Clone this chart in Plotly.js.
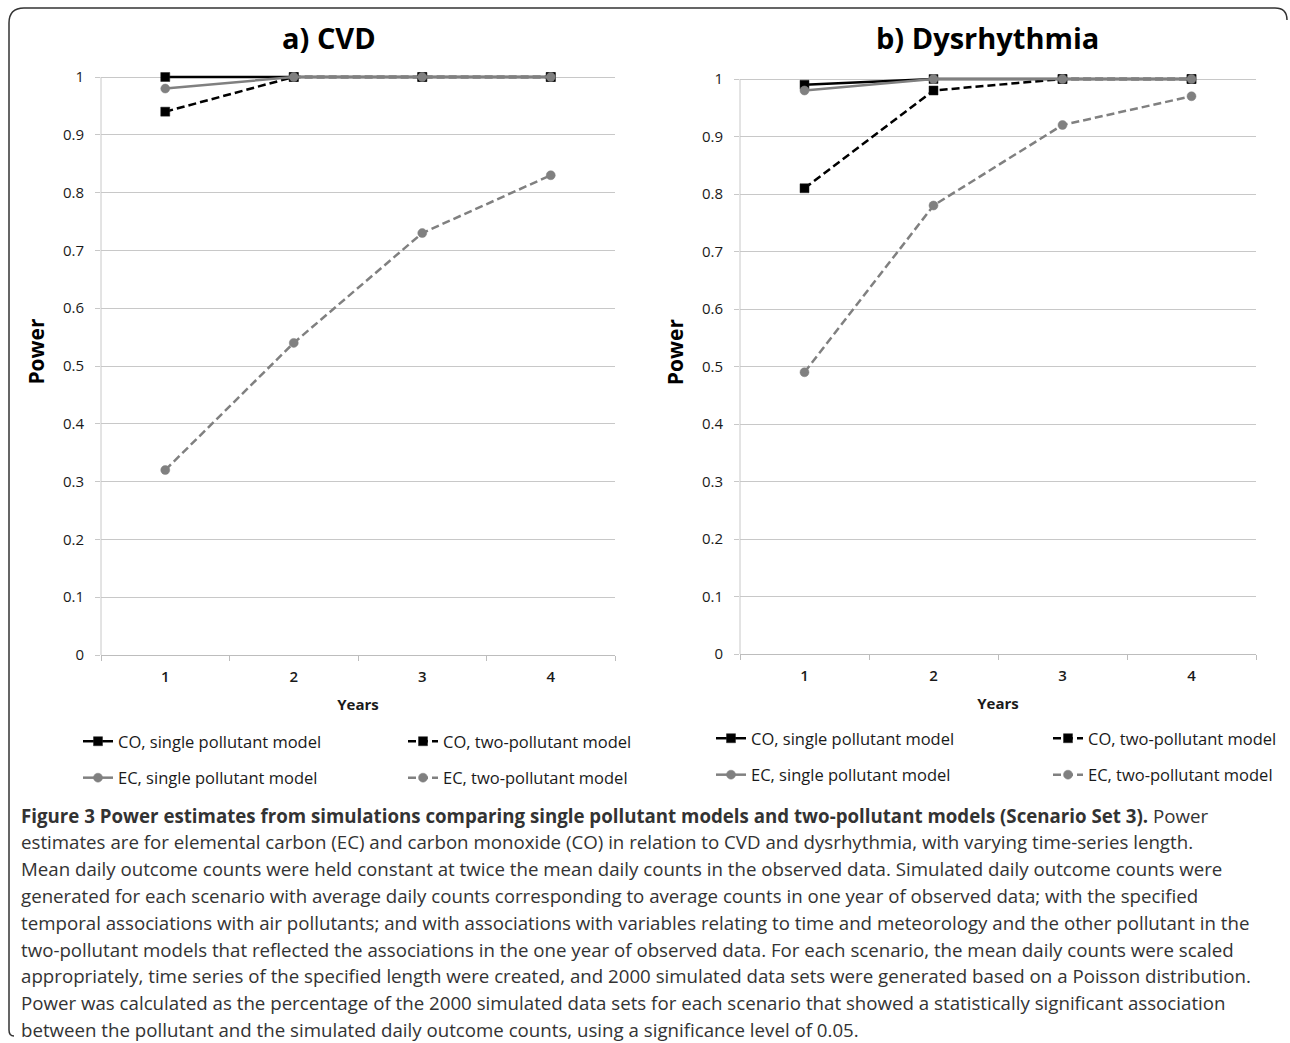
<!DOCTYPE html>
<html>
<head>
<meta charset="utf-8">
<script src="https://cdn.plot.ly/plotly-3.0.1.min.js"></script>
<style>
html,body{margin:0;padding:0;background:#fff;}
#chart{width:1290px;height:1043px;}
</style>
</head>
<body>
<div id="chart"></div>
<script>
// ---------- DATA ----------
const years = ['1', '2', '3', '4'];
const yTicks = [0, 0.1, 0.2, 0.3, 0.4, 0.5, 0.6, 0.7, 0.8, 0.9, 1];
const seriesNames = ['CO, single pollutant model', 'CO, two-pollutant model',
                     'EC, single pollutant model', 'EC, two-pollutant model'];
// a) CVD
const cvdCOsingle = [1, 1, 1, 1];
const cvdCOtwo    = [0.94, 1, 1, 1];
const cvdECsingle = [0.98, 1, 1, 1];
const cvdECtwo    = [0.32, 0.54, 0.73, 0.83];
// b) Dysrhythmia
const dysCOsingle = [0.99, 1, 1, 1];
const dysCOtwo    = [0.81, 0.98, 1, 1];
const dysECsingle = [0.98, 1, 1, 1];
const dysECtwo    = [0.49, 0.78, 0.92, 0.97];
const panelTitles = ['a) CVD', 'b) Dysrhythmia'];
const captionLines = [
  '<b>Figure 3 Power estimates from simulations comparing single pollutant models and two-pollutant models (Scenario Set 3).</b> Power',
  'estimates are for elemental carbon (EC) and carbon monoxide (CO) in relation to CVD and dysrhythmia, with varying time-series length.',
  'Mean daily outcome counts were held constant at twice the mean daily counts in the observed data. Simulated daily outcome counts were',
  'generated for each scenario with average daily counts corresponding to average counts in one year of observed data; with the specified',
  'temporal associations with air pollutants; and with associations with variables relating to time and meteorology and the other pollutant in the',
  'two-pollutant models that reflected the associations in the one year of observed data. For each scenario, the mean daily counts were scaled',
  'appropriately, time series of the specified length were created, and 2000 simulated data sets were generated based on a Poisson distribution.',
  'Power was calculated as the percentage of the 2000 simulated data sets for each scenario that showed a statistically significant association',
  'between the pollutant and the simulated daily outcome counts, using a significance level of 0.05.'
];

// ---------- STYLE ----------
const W = 1290, H = 1043;
const px = x => x / W;
const py = y => 1 - y / H;
const FONT = 'Open Sans, sans-serif';
const BLACK = '#000000', GRAY = '#808080';
const DASH = '8px,4px';

const styles = [
  {color: BLACK, dash: 'solid', symbol: 'square', msize: 9},
  {color: BLACK, dash: DASH,    symbol: 'square', msize: 9},
  {color: GRAY,  dash: 'solid', symbol: 'circle', msize: 9},
  {color: GRAY,  dash: DASH,    symbol: 'circle', msize: 9}
];
const legendFor = [['legend', 'legend2', 'legend', 'legend2'], ['legend3', 'legend4', 'legend3', 'legend4']];

function makeTraces(panel, arrays, xa, ya) {
  return arrays.map((vals, i) => ({
    type: 'scatter', mode: 'lines+markers',
    x: years, y: vals, xaxis: xa, yaxis: ya,
    name: seriesNames[i],
    legend: legendFor[panel][i],
    legendgroup: 'p' + panel + 's' + i,
    cliponaxis: false,
    line: {color: styles[i].color, width: 2.5, dash: styles[i].dash},
    marker: {symbol: styles[i].symbol, size: styles[i].msize, color: styles[i].color,
             line: {color: i < 2 ? '#222' : GRAY, width: 0.5}}
  }));
}

const traces = [
  ...makeTraces(0, [cvdCOsingle, cvdCOtwo, cvdECsingle, cvdECtwo], 'x', 'y'),
  ...makeTraces(1, [dysCOsingle, dysCOtwo, dysECsingle, dysECtwo], 'x2', 'y2')
];

function xAxis(d0, d1, anchor) {
  return {
    domain: [px(d0), px(d1)], anchor: anchor, type: 'category',
    categoryorder: 'array', categoryarray: years,
    range: [-0.5, 3.5], tickson: 'boundaries', ticks: 'outside', ticklen: 5,
    tickcolor: '#bdbdbd', showline: true, linecolor: '#bdbdbd', linewidth: 1,
    showgrid: false, zeroline: false, fixedrange: true, ticklabelstandoff: 8,
    tickfont: {family: FONT, size: 15, color: '#1a1a1a', weight: 600},
    title: {text: '<b>Years</b>', font: {family: FONT, size: 15, color: '#1a1a1a'}, standoff: 14}
  };
}
function yAxis(yZero, yOne, anchor) {
  const per = (yZero - yOne); // pixels for 1.0
  const top = yOne - per * 0.05;
  return {
    domain: [py(yZero), py(top)], anchor: anchor, range: [0, 1.05],
    tickvals: yTicks, ticktext: yTicks.map(v => String(v)),
    ticks: 'outside', ticklen: 5, tickcolor: '#c8c8c8', ticklabelstandoff: 8,
    showgrid: true, gridcolor: '#c8c8c8', gridwidth: 1,
    showline: false, zeroline: false, fixedrange: true,
    tickfont: {family: FONT, size: 15, color: '#1a1a1a'},
    title: {text: '<b>Power</b>', font: {family: FONT, size: 21, color: '#000'}, standoff: 12}
  };
}

function legendBox(x, y) {
  return {
    x: px(x), y: py(y), xanchor: 'left', yanchor: 'top', orientation: 'v',
    bgcolor: 'rgba(0,0,0,0)', borderwidth: 0, tracegroupgap: 12,
    font: {family: FONT, size: 16.5, color: '#1a1a1a'}, itemwidth: 30
  };
}

const annotations = [
  {text: '<b>' + panelTitles[0] + '</b>', xref: 'paper', yref: 'paper', x: px(329), y: py(38),
   xanchor: 'center', yanchor: 'middle', showarrow: false, font: {family: FONT, size: 29, color: '#000'}},
  {text: '<b>' + panelTitles[1] + '</b>', xref: 'paper', yref: 'paper', x: px(987), y: py(38),
   xanchor: 'center', yanchor: 'middle', showarrow: false, font: {family: FONT, size: 29, color: '#000'}}
];
captionLines.forEach((t, i) => {
  annotations.push({text: t, xref: 'paper', yref: 'paper', x: px(19), y: py(815 + i * 26.8),
    xanchor: 'left', yanchor: 'middle', showarrow: false, align: 'left',
    font: {family: FONT, size: 18.7, color: '#333'}});
});

const shapes = [
  // outer frame (left side & top with rounded corners)
  {type: 'path', xref: 'paper', yref: 'paper', line: {color: '#333', width: 1.5},
   path: `M ${px(1287)} ${py(20)} Q ${px(1287)} ${py(8)} ${px(1275)} ${py(8)} L ${px(24)} ${py(8)} ` +
         `Q ${px(9)} ${py(8)} ${px(9)} ${py(23)} L ${px(9)} ${py(1030)} Q ${px(9)} ${py(1036)} ${px(14)} ${py(1036)}`},
  // y-axis lines from 0 to 1
  {type: 'line', xref: 'x domain', yref: 'y', x0: 0, x1: 0, y0: 0, y1: 1, line: {color: '#c8c8c8', width: 1}},
  {type: 'line', xref: 'x2 domain', yref: 'y2', x0: 0, x1: 0, y0: 0, y1: 1, line: {color: '#c8c8c8', width: 1}}
];

const layout = {
  width: W, height: H, margin: {l: 0, r: 0, t: 0, b: 0},
  paper_bgcolor: '#fff', plot_bgcolor: '#fff', showlegend: true,
  font: {family: FONT},
  xaxis: xAxis(101, 615, 'y'),
  yaxis: yAxis(655, 77, 'x'),
  xaxis2: xAxis(740, 1256, 'y2'),
  yaxis2: yAxis(654, 79, 'x2'),
  legend: legendBox(78, 724),
  legend2: legendBox(403, 724),
  legend3: legendBox(711, 721),
  legend4: legendBox(1048, 721),
  annotations: annotations,
  shapes: shapes
};

Plotly.newPlot('chart', traces, layout, {displayModeBar: false, staticPlot: true});
</script>
</body>
</html>
